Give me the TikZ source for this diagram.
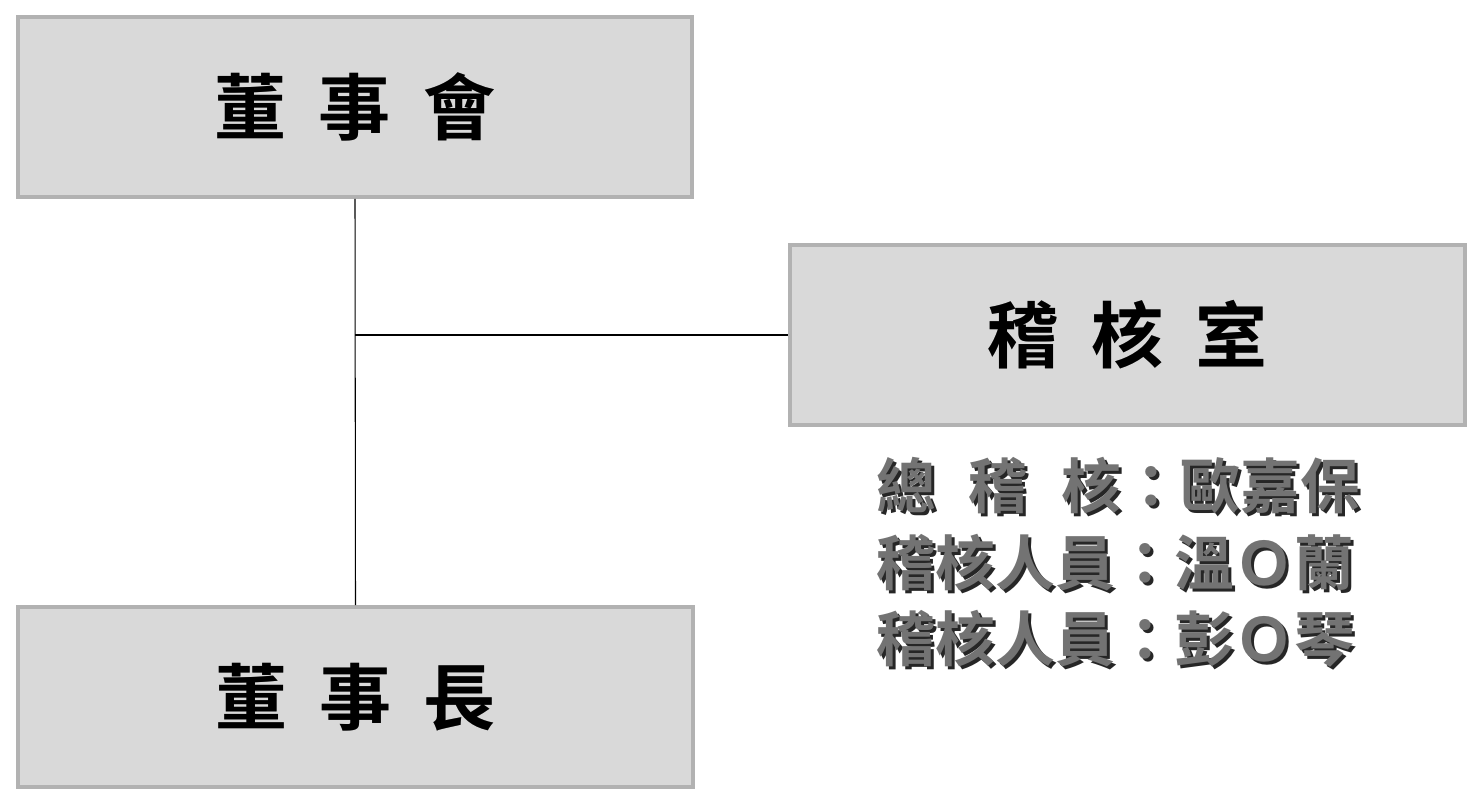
\documentclass[tikz,border=0pt]{standalone}
\usepackage{fontspec}
\newfontfamily\cjk{Noto Sans CJK TC Bold}
\usetikzlibrary{positioning}
\tikzset{
  unit/.style={rectangle, draw=black!30, line width=0.08cm, fill=black!15, minimum width=13.5cm, minimum height=3.6cm, inner sep=0pt},
  title/.style={font=\cjk\fontsize{41}{44}\selectfont, text=black},
  shade/.style={font=\cjk\fontsize{41}{44}\selectfont, text=black!45},
  staff/.style={font=\cjk\fontsize{34}{37}\selectfont, text=black!55, anchor=west},
  staffshade/.style={font=\cjk\fontsize{34}{37}\selectfont, text=black!85, anchor=west}
}
\tikzset{link/.style={draw=black, line width=0.6pt}}
\begin{document}
\begin{tikzpicture}[x=0.02cm, y=-0.02cm]
\useasboundingbox (0,0) rectangle (1482,805);
% boxes
\node (board) [unit] at (355,107) {};
\node (audit) [unit] at (1127.5,335) {};
\node (chair) [unit] at (355.5,697) {};
% titles
\node[shade] at ([shift={(0.06,-0.06)}]board.center) {董\hspace{0.45em}事\hspace{0.45em}會};
\node[title] at (board.center) {董\hspace{0.45em}事\hspace{0.45em}會};
\node[shade] at ([shift={(0.06,-0.06)}]audit.center) {稽\hspace{0.45em}核\hspace{0.45em}室};
\node[title] at (audit.center) {稽\hspace{0.45em}核\hspace{0.45em}室};
\node[shade] at ([shift={(0.06,-0.06)}]chair.center) {董\hspace{0.45em}事\hspace{0.45em}長};
\node[title] at (chair.center) {董\hspace{0.45em}事\hspace{0.45em}長};
% staff list
\node[staffshade] at (873,489) {總\hspace{0.55em}稽\hspace{0.55em}核：歐嘉保};
\node[staff] (s1) at (870,486) {總\hspace{0.55em}稽\hspace{0.55em}核：歐嘉保};
\node[staffshade] at (873,566) {稽核人員：溫Ｏ蘭};
\node[staff] (s2) at (870,563) {稽核人員：溫Ｏ蘭};
\node[staffshade] at (873,642) {稽核人員：彭Ｏ琴};
\node[staff] (s3) at (870,639) {稽核人員：彭Ｏ琴};
% connectors
\coordinate (branch) at (board.south |- audit.west);
\draw[link] (board.south) -- (chair.north);
\draw[link] (branch) -- (audit.west);
\end{tikzpicture}
\end{document}
